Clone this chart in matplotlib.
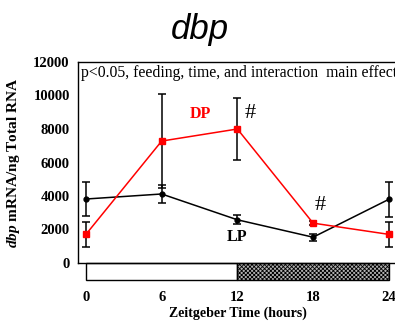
import matplotlib.pyplot as plt
from matplotlib.patches import Rectangle

# Zeitgeber time points (hours)
zt = [0, 6, 12, 18, 24]

# LP group: mean and SEM
lp_mean = [3820, 4120, 2580, 1540, 3800]
lp_err = [1040, 520, 260, 220, 1050]

# DP group: mean and SEM
dp_mean = [1710, 7280, 8000, 2380, 1710]
dp_err = [740, 2800, 1840, 110, 740]

serif = ["Liberation Serif", "DejaVu Serif"]
plt.rcParams["mathtext.fontset"] = "custom"
plt.rcParams["mathtext.it"] = "Liberation Serif:italic:bold"
plt.rcParams["hatch.color"] = "#6e6e6e"
plt.rcParams["hatch.linewidth"] = 0.6

fig = plt.figure(figsize=(3.95, 3.24), dpi=100)
ax = fig.add_axes([78 / 395, 1 - 263 / 324, 319 / 395, 201 / 324])

ax.errorbar(zt, lp_mean, yerr=lp_err, color="black", lw=1.1, marker="o", ms=3.5,
            ecolor="black", elinewidth=1.1, capsize=3, capthick=1.1, zorder=3)
ax.errorbar(zt, dp_mean, yerr=dp_err, color="red", lw=1.1, marker="s", ms=4,
            ecolor="black", elinewidth=1.1, capsize=3, capthick=1.1, zorder=4)

ax.set_xlim(-0.63, 24.65)
ax.set_ylim(0, 12000)
ax.set_yticks([0, 2000, 4000, 6000, 8000, 10000, 12000])
ax.set_xticks(zt)
ax.tick_params(axis="both", length=0)
ax.tick_params(axis="x", pad=20)
ax.tick_params(axis="y", pad=6)
for lab in ax.get_xticklabels() + ax.get_yticklabels():
    lab.set_family(serif)
    lab.set_fontweight("bold")
    lab.set_fontsize(10.5)
for s in ax.spines.values():
    s.set_linewidth(1.0)

# light/dark bar below the axis
bar_h = 17 / 201
ax.add_patch(Rectangle((0, -bar_h), 12, bar_h, transform=ax.get_xaxis_transform(),
                       facecolor="white", edgecolor="black", lw=1.0, clip_on=False))
ax.add_patch(Rectangle((12, -bar_h), 12, bar_h, transform=ax.get_xaxis_transform(),
                       facecolor="#b4b4b4", edgecolor="black", hatch="xxxxxxxx", lw=1.0,
                       clip_on=False))

ax.set_xlabel("Zeitgeber Time (hours)", family=serif, fontweight="bold", fontsize=10,
              labelpad=2)
ax.set_ylabel(r"$dbp$ mRNA/ng Total RNA", family=serif, fontweight="bold",
              fontsize=11, labelpad=8)

ax.text(-0.4, 11340, "p<0.05, feeding, time, and interaction  main effects",
        family=serif, fontsize=11.3, va="center", ha="left")
ax.text(9.1, 8900, "DP", color="red", family=serif, fontweight="bold", fontsize=11.5,
        ha="center", va="center")
ax.text(13.0, 8950, "#", family=serif, fontsize=16, ha="center", va="center")
ax.text(18.6, 3450, "#", family=serif, fontsize=16, ha="center", va="center")
ax.text(12.0, 1550, "LP", family=serif, fontweight="bold", fontsize=11.5,
        ha="center", va="center")

fig.text(0.505, 1 - 30 / 324, "dbp", fontsize=25, style="italic",
         family=["Liberation Sans", "DejaVu Sans"], ha="center", va="center")

fig.savefig("out.png", dpi=100)
